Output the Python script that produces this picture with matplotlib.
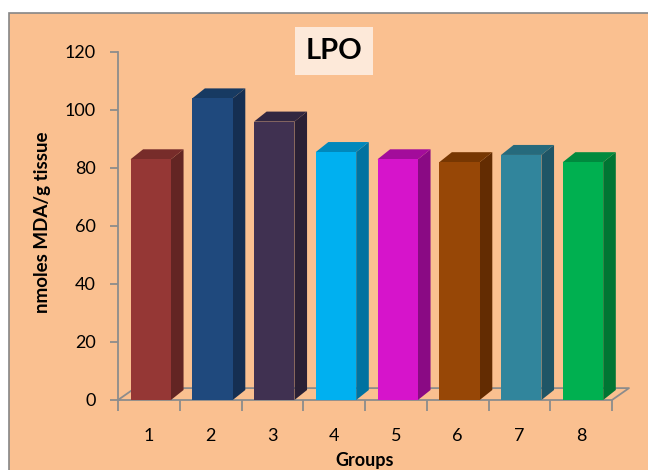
import numpy as np
import matplotlib.pyplot as plt
from matplotlib.patches import Polygon, Rectangle

plt.rcParams['font.family'] = ['Lato', 'DejaVu Sans']

groups = ['1', '2', '3', '4', '5', '6', '7', '8']
lpo = [83, 104, 96, 85.5, 83, 82, 84.5, 82]
front_colors = ['#953735', '#1F497D', '#403151', '#00B0F0',
                '#D614CB', '#974706', '#31859C', '#00B050']
side_colors = ['#632523', '#152F52', '#2A2035', '#0072A0',
               '#8A0A84', '#632C02', '#1F5566', '#007533']
top_colors = ['#772C2A', '#173A62', '#322741', '#0088BC',
              '#A30C9B', '#773702', '#266A7C', '#008A3E']

bg = '#FAC090'
grey = '#8C8C8C'

fig = plt.figure(figsize=(6.48, 4.70), dpi=100)
fig.patch.set_facecolor('white')
fig.patches.append(Rectangle((9 / 648, -0.05), 1.1, 1 - 13 / 470 + 0.05,
                             transform=fig.transFigure, facecolor=bg,
                             edgecolor='#868686', linewidth=1.2, zorder=-10))

ax = fig.add_axes([118 / 648, 70 / 470, 494 / 648, 348 / 470])
ax.set_facecolor('none')
ax.set_xlim(0.5, 8.5)
ax.set_ylim(0, 120)
for s in ax.spines.values():
    s.set_visible(False)

x = np.arange(1, len(groups) + 1)
w = 0.655
bdx, bdy = 0.204, 3.45   # bar depth
fdx, fdy = 0.275, 4.1    # floor depth

# floor outline
ax.plot([0.5, 0.5 + fdx, 8.5 + fdx, 8.5, 0.5],
        [0, fdy, fdy, 0, 0], color=grey, lw=1.3, clip_on=False, zorder=1)
# y axis line
ax.plot([0.5, 0.5], [0, 120], color=grey, lw=1.3, clip_on=False, zorder=1)

for xi, v, fc, sc, tc in zip(x, lpo, front_colors, side_colors, top_colors):
    x0 = xi - w / 2 + 0.03
    x1 = x0 + w
    ax.add_patch(Polygon([[x1, 0], [x1 + bdx, bdy], [x1 + bdx, v + bdy], [x1, v]],
                         closed=True, facecolor=sc, edgecolor='none',
                         clip_on=False, zorder=3))
    ax.add_patch(Polygon([[x0, v], [x1, v], [x1 + bdx, v + bdy], [x0 + bdx, v + bdy]],
                         closed=True, facecolor=tc, edgecolor='none',
                         clip_on=False, zorder=3))
    ax.add_patch(Rectangle((x0, 0), w, v, facecolor=fc, edgecolor='none',
                           clip_on=False, zorder=4))

ax.set_yticks(np.arange(0, 121, 20))
ax.set_xticks(np.arange(0.5, 8.6, 1))
ax.set_xticklabels([])
ax.set_xticks(x, minor=True)
ax.set_xticklabels(groups, minor=True)
ax.tick_params(axis='x', which='major', direction='out', length=8,
               width=1.3, color=grey)
ax.tick_params(axis='x', which='minor', length=0, pad=20, labelsize=13)
ax.tick_params(axis='y', direction='out', length=6, width=1.3, color=grey,
               pad=10, labelsize=13)

ax.set_xlabel('Groups', fontsize=13, fontweight='bold', labelpad=6)
ax.set_ylabel('nmoles MDA/g tissue', fontsize=13.5, fontweight='bold')
ax.yaxis.set_label_coords(-(118 - 51) / 494, 0.51)

fig.text(334 / 648, 1 - 51 / 470, 'LPO', ha='center', va='center',
         fontsize=21, fontweight='bold',
         bbox=dict(boxstyle='square,pad=0.38', facecolor='#FDE9D9', edgecolor='none'))

fig.savefig('out.png', dpi=100, facecolor=fig.get_facecolor())
